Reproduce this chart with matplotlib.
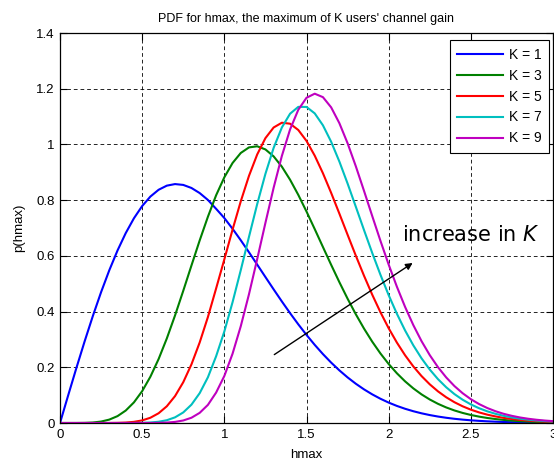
import matplotlib
matplotlib.use("Agg")
import matplotlib.pyplot as plt

h = [0.00, 0.05, 0.10, 0.15, 0.20, 0.25, 0.30, 0.35, 0.40, 0.45, 0.50, 0.55, 0.60, 0.65, 0.70, 0.75,
     0.80, 0.85, 0.90, 0.95, 1.00, 1.05, 1.10, 1.15, 1.20, 1.25, 1.30, 1.35, 1.40, 1.45, 1.50, 1.55,
     1.60, 1.65, 1.70, 1.75, 1.80, 1.85, 1.90, 1.95, 2.00, 2.05, 2.10, 2.15, 2.20, 2.25, 2.30, 2.35,
     2.40, 2.45, 2.50, 2.55, 2.60, 2.65, 2.70, 2.75, 2.80, 2.85, 2.90, 2.95, 3.00]

p_k1 = [0.0, 0.09975, 0.19801, 0.29333, 0.38432, 0.46971, 0.54836, 0.61929, 0.68172, 0.73502, 0.77880,
        0.81287, 0.83721, 0.85203, 0.85768, 0.85467, 0.84367, 0.82541, 0.80074, 0.76882, 0.73576,
        0.69728, 0.65603, 0.61288, 0.56863, 0.52403, 0.47975, 0.43638, 0.39440, 0.35424, 0.31620,
        0.28052, 0.24738, 0.21685, 0.18896, 0.16370, 0.14099, 0.12073, 0.10280, 0.08703, 0.07326,
        0.06133, 0.05105, 0.04226, 0.03479, 0.02849, 0.02319, 0.01878, 0.01512, 0.01212, 0.00965,
        0.00765, 0.00603, 0.00473, 0.00368, 0.00286, 0.00220, 0.00169, 0.00129, 0.00098, 0.00074]

p_k3 = [0.0, 0.0, 0.00006, 0.00044, 0.00177, 0.00517, 0.01219, 0.02470, 0.04471, 0.07410, 0.11432,
        0.16616, 0.22956, 0.30352, 0.38611, 0.47456, 0.56556, 0.65539, 0.74032, 0.81753, 0.88198,
        0.93331, 0.96934, 0.98931, 0.99331, 0.98211, 0.95711, 0.92017, 0.87334, 0.81897, 0.75918,
        0.69615, 0.63183, 0.56787, 0.50562, 0.44624, 0.39049, 0.33894, 0.29194, 0.24957, 0.21180,
        0.17853, 0.14945, 0.12430, 0.10273, 0.08439, 0.06887, 0.05589, 0.04507, 0.03618, 0.02884,
        0.02288, 0.01805, 0.01417, 0.01103, 0.00857, 0.00660, 0.00507, 0.00387, 0.00294, 0.00222]

p_k5 = [0.0, 0.0, 0.0, 0.0, 0.0, 0.00003, 0.00015, 0.00055, 0.00163, 0.00415, 0.00932,
        0.01887, 0.03497, 0.06007, 0.09657, 0.14639, 0.21063, 0.28910, 0.38026, 0.48295, 0.58737,
        0.69403, 0.79571, 0.88720, 0.96397, 1.02256, 1.06081, 1.07794, 1.07440, 1.05184, 1.01263,
        0.95976, 0.89654, 0.82614, 0.75164, 0.67579, 0.60084, 0.52863, 0.46060, 0.39759, 0.34019,
        0.28871, 0.24306, 0.20312, 0.16851, 0.13888, 0.11363, 0.09241, 0.07465, 0.06000, 0.04788,
        0.03802, 0.03001, 0.02357, 0.01835, 0.01427, 0.01098, 0.00844, 0.00644, 0.00490, 0.00370]

p_k7 = [0.0, 0.0, 0.0, 0.0, 0.0, 0.0, 0.0, 0.00001, 0.00005, 0.00020, 0.00064,
        0.00180, 0.00447, 0.00999, 0.02029, 0.03793, 0.06589, 0.10713, 0.16406, 0.23966, 0.32858,
        0.43352, 0.54867, 0.66832, 0.78582, 0.89434, 0.98763, 1.06073, 1.11026, 1.13479, 1.13458,
        1.11150, 1.06860, 1.00960, 0.93857, 0.85967, 0.77658, 0.69258, 0.61043, 0.53205, 0.45898,
        0.39219, 0.33207, 0.27880, 0.23220, 0.19197, 0.15748, 0.12834, 0.10385, 0.08359, 0.06677,
        0.05307, 0.04192, 0.03293, 0.02566, 0.01996, 0.01536, 0.01181, 0.00902, 0.00685, 0.00518]

p_k9 = [0.0, 0.0, 0.0, 0.0, 0.0, 0.0, 0.0, 0.0, 0.0, 0.00001, 0.00004,
        0.00016, 0.00053, 0.00152, 0.00391, 0.00903, 0.01893, 0.03645, 0.06501, 0.10922, 0.16881,
        0.24869, 0.34744, 0.46235, 0.58830, 0.71834, 0.84443, 0.95858, 1.05367, 1.12437, 1.16746,
        1.18214, 1.16970, 1.13307, 1.07635, 1.00432, 0.92177, 0.83329, 0.74293, 0.65388, 0.56870,
        0.48927, 0.41663, 0.35145, 0.29384, 0.24371, 0.20044, 0.16369, 0.13269, 0.10694, 0.08552,
        0.06803, 0.05377, 0.04227, 0.03294, 0.02563, 0.01974, 0.01517, 0.01159, 0.00881, 0.00665]

series = [("K = 1", p_k1, (0, 0, 1)),
          ("K = 3", p_k3, (0, 0.5, 0)),
          ("K = 5", p_k5, (1, 0, 0)),
          ("K = 7", p_k7, (0, 0.75, 0.75)),
          ("K = 9", p_k9, (0.75, 0, 0.75))]

xticks = [0, 0.5, 1, 1.5, 2, 2.5, 3]
xticklabels = ["0", "0.5", "1", "1.5", "2", "2.5", "3"]
yticks = [0, 0.2, 0.4, 0.6, 0.8, 1.0, 1.2, 1.4]
yticklabels = ["0", "0.2", "0.4", "0.6", "0.8", "1", "1.2", "1.4"]

plt.rcParams['font.family'] = ['Liberation Sans', 'DejaVu Sans']
plt.rcParams['mathtext.fontset'] = 'dejavusans'

fig = plt.figure(figsize=(5.54, 4.61), dpi=100)
ax = fig.add_axes([60/554, 38/461, 493/554, 390/461])

for label, vals, col in series:
    ax.plot(h, vals, color=col, lw=1.5, label=label)

ax.set_xlim(0, 3)
ax.set_ylim(0, 1.4)
ax.set_xticks(xticks)
ax.set_xticklabels(xticklabels)
ax.set_yticks(yticks)
ax.set_yticklabels(yticklabels)
ax.tick_params(direction='in', length=5, width=0.8, top=True, right=True,
               labelsize=9.5, colors='black', pad=4)
for s in ax.spines.values():
    s.set_linewidth(0.9)
ax.grid(True, color='black', linestyle=(0, (4.5, 3.5)), linewidth=0.6)

ax.set_title("PDF for hmax, the maximum of K users' channel gain", fontsize=9, pad=8)
ax.set_xlabel("hmax", fontsize=9.5, labelpad=6)
ax.set_ylabel("p(hmax)", fontsize=9.5, labelpad=8)

leg = ax.legend(loc='upper right', bbox_to_anchor=(549/554, 1 - 40/461),
                bbox_transform=fig.transFigure, borderaxespad=0,
                fontsize=10, frameon=True, fancybox=False,
                edgecolor='black', framealpha=1, handlelength=3.3,
                labelspacing=0.5, handletextpad=0.4, borderpad=0.55)
leg.get_frame().set_linewidth(0.8)

ax.annotate("", xy=(2.16, 0.58), xytext=(1.29, 0.24),
            arrowprops=dict(arrowstyle='-|>', color='black', lw=1.0, mutation_scale=10))
ax.text(2.08, 0.655, "increase in $\\mathit{K}$", fontsize=15, family='DejaVu Sans',
        va='baseline')

fig.savefig("out.png", dpi=100)
